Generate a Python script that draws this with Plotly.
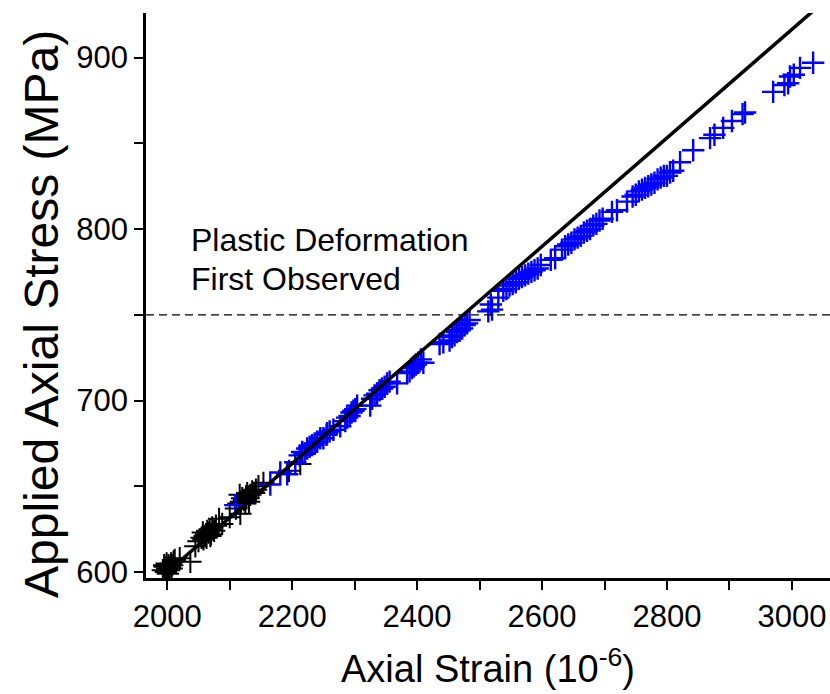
import plotly.graph_objects as go

# Black (early, elastic) measurements: axial strain (1e-6), applied stress (MPa)
black_strain = [1993, 1996, 1998, 2000, 2002, 2004, 2006, 2008, 2010, 1999, 2003, 2012, 2001, 1995, 2007,
                2037, 2020,
                2050, 2055, 2058, 2060, 2062, 2064, 2066, 2068, 2070, 2072, 2075, 2078, 2063, 2069, 2057,
                2088, 2083, 2045,
                2110, 2114, 2118, 2120, 2123, 2126, 2128, 2130, 2133, 2136, 2139, 2142, 2125, 2131, 2116,
                2117, 2154, 2100, 2146, 2213, 2195]
black_stress = [601, 603, 600, 602, 604, 603, 605, 604, 606, 605, 601, 607, 599, 604, 602,
                606, 608,
                618, 620, 619, 621, 622, 624, 623, 625, 622, 626, 624, 627, 620, 621, 623,
                628, 631, 615,
                637, 640, 641, 643, 642, 644, 646, 643, 645, 647, 646, 648, 640, 641, 645,
                634, 652, 632, 650, 663, 659]

# Blue (later) measurements
blue_strain = [2109, 2165, 2181, 2192, 2205,
               2212, 2216, 2220, 2224, 2228, 2232, 2236, 2240, 2245, 2250, 2255, 2260, 2266,
               2256, 2277,
               2285, 2288, 2292, 2295, 2298, 2301, 2304,
               2325,
               2328, 2332, 2336, 2340, 2344, 2348, 2352, 2356,
               2368,
               2384, 2388, 2392, 2395, 2398, 2402, 2406,
               2410, 2442, 2436,
               2452, 2456, 2460, 2464, 2468, 2472, 2476, 2480, 2484,
               2514, 2520, 2518, 2530,
               2538, 2543, 2548, 2553, 2558, 2563, 2568, 2573, 2578, 2583, 2588, 2593, 2598,
               2621, 2614,
               2632, 2637, 2642, 2647, 2652, 2657, 2662, 2667, 2672, 2677, 2682, 2687, 2692, 2697,
               2720, 2712, 2736,
               2745, 2750, 2755, 2760, 2765, 2770, 2775, 2780, 2785, 2790, 2795, 2800, 2805, 2810,
               2821, 2842, 2869, 2876, 2890, 2904, 2925, 2921, 2970, 2988, 2994, 2997, 3003, 3013, 3034]
blue_stress = [639, 651, 658, 657, 664,
               668, 670, 669, 672, 673, 674, 675, 676, 678, 678, 680, 682, 683,
               681, 685,
               688, 690, 691, 693, 694, 695, 697,
               697,
               701, 703, 704, 706, 707, 708, 710, 711,
               710,
               716, 717, 719, 720, 721, 722, 724,
               722, 734, 733,
               735, 737, 738, 740, 741, 742, 744, 745, 747,
               752, 753, 756, 760,
               764, 765, 767, 768, 769, 771, 772, 773, 774, 775, 776, 777, 779,
               783, 782,
               788, 790, 791, 792, 794, 795, 796, 798, 799, 800, 802, 803, 805, 806,
               811, 810, 816,
               819, 820, 822, 823, 824, 825, 826, 827, 829, 830, 831, 831, 833, 834,
               839, 846, 853, 855, 859, 863, 868, 867, 880, 884, 885, 889, 890, 894, 897]

# Linear elastic fit line
fit_strain = [1995, 3070]
fit_stress = [598.4, 938.6]

# Plastic deformation threshold
threshold_stress = 750
x_range = [1966, 3061]
y_range = [596.5, 926]

x_ticks = [2000, 2200, 2400, 2600, 2800, 3000]
y_ticks = [600, 700, 800, 900]

note_lines = ["Plastic Deformation", "First Observed"]

FONT = "Liberation Sans, Arial, sans-serif"

fig = go.Figure()
fig.add_trace(go.Scatter(
    x=black_strain, y=black_stress, mode="markers",
    marker=dict(symbol="cross-thin", size=16, line=dict(color="black", width=2.0)),
    showlegend=False))
fig.add_trace(go.Scatter(
    x=blue_strain, y=blue_stress, mode="markers",
    marker=dict(symbol="cross-thin", size=16, line=dict(color="#0000FF", width=2.4)),
    showlegend=False))
fig.add_trace(go.Scatter(
    x=fit_strain, y=fit_stress, mode="lines",
    line=dict(color="black", width=3.5), showlegend=False))
fig.add_trace(go.Scatter(
    x=x_range, y=[threshold_stress, threshold_stress], mode="lines",
    line=dict(color="black", width=1.3, dash="8px,5px"), showlegend=False))

for i, (txt, ypx) in enumerate(zip(note_lines, [240, 279])):
    fig.add_annotation(x=(189 - 146) / 684, y=(578 - ypx) / 565, xref="paper", yref="paper",
                       xanchor="left", yanchor="middle", text=txt, showarrow=False,
                       font=dict(family=FONT, size=32, color="black"))

fig.add_annotation(x=-(146 - 41) / 684, y=(578 - 314) / 565, xref="paper", yref="paper",
                   xanchor="center", yanchor="middle",
                   text="Applied Axial Stress (MPa)", textangle=-90, showarrow=False,
                   font=dict(family=FONT, size=48, color="black"))

fig.update_layout(
    width=830, height=694,
    margin=dict(l=146, r=0, t=13, b=116),
    paper_bgcolor="white", plot_bgcolor="white",
    font=dict(family=FONT, color="black"),
    xaxis=dict(range=x_range, tickvals=x_ticks, showgrid=False, zeroline=False,
               showline=True, linecolor="black", linewidth=2.5,
               ticks="outside", ticklen=9, tickwidth=2, tickcolor="black",
               tickfont=dict(family=FONT, size=31),
               minor=dict(tickvals=[2100, 2300, 2500, 2700, 2900], ticks="outside",
                          ticklen=9, tickwidth=2, tickcolor="black"),
               title=dict(text="Axial Strain (10<sup>-6</sup>)", standoff=23,
                          font=dict(family=FONT, size=38))),
    yaxis=dict(range=y_range, tickvals=y_ticks, showgrid=False, zeroline=False,
               showline=True, linecolor="black", linewidth=2.5,
               ticks="outside", ticklen=9, tickwidth=2, tickcolor="black",
               tickfont=dict(family=FONT, size=31),
               minor=dict(tickvals=[650, 750, 850], ticks="outside",
                          ticklen=9, tickwidth=2, tickcolor="black")),
)

fig.write_html("out.html")
